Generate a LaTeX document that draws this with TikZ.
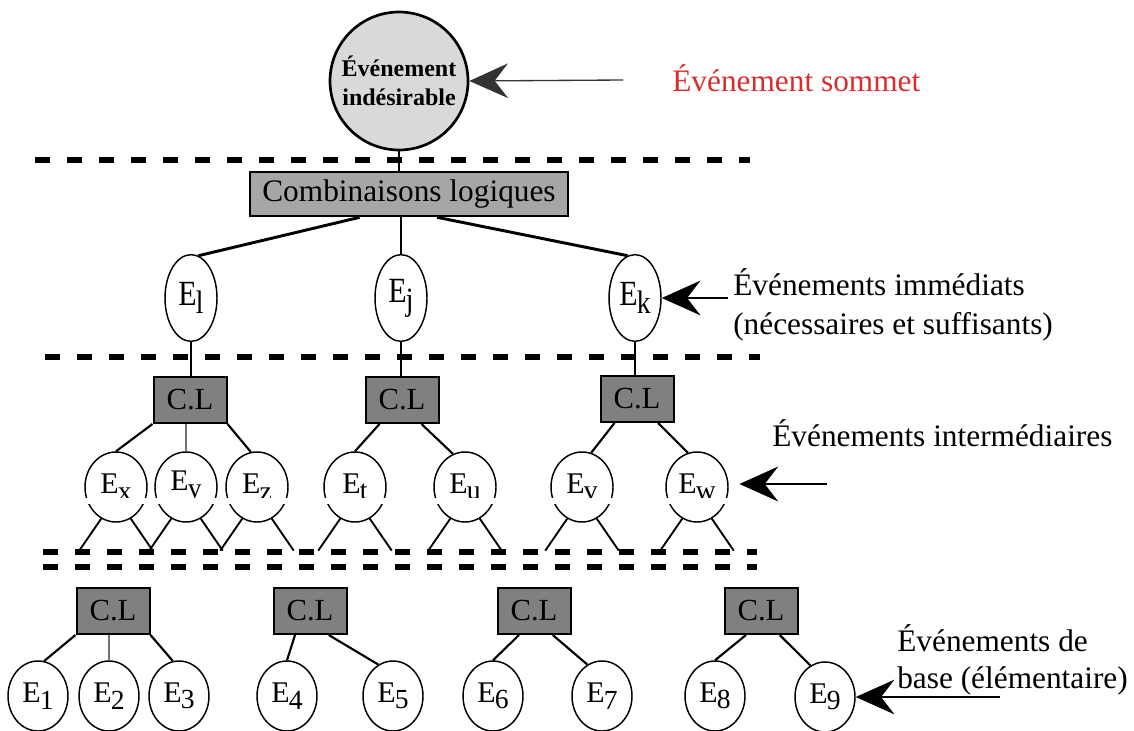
\documentclass[tikz,border=0pt]{standalone}
\usepackage{fontspec}
\usepackage{graphicx}
\setmainfont{Liberation Serif}
\usetikzlibrary{shapes.geometric,arrows.meta,calc}
\definecolor{topfill}{RGB}{217,217,217}
\definecolor{combfill}{RGB}{166,166,166}
\definecolor{clfill}{RGB}{128,128,128}
\definecolor{redlbl}{RGB}{218,45,45}
\newcommand{\Esub}[1]{E\kern-0.6pt\raisebox{-0.22em}{\scalebox{0.92}{#1}}}
\newcommand{\Ebig}[1]{\scalebox{1}[1.18]{\Esub{#1}}}
\tikzset{
  evt/.style={ellipse, draw, line width=1.1pt, fill=white, inner sep=0pt, font=\fontsize{22.5}{24}\selectfont},
  lvlone/.style={evt, minimum width=39pt, minimum height=65pt},
  lvltwo/.style={evt, minimum width=46.5pt, minimum height=52.5pt},
  basev/.style={evt, minimum width=45pt, minimum height=52.5pt},
  clbox/.style={draw, line width=1.5pt, fill=clfill, minimum width=54.75pt, minimum height=34.5pt, inner sep=0pt, font=\fontsize{23}{24}\selectfont},
  combbox/.style={draw, line width=2pt, fill=combfill, minimum width=238.5pt, minimum height=33pt, inner sep=0pt, font=\fontsize{23.5}{24}\selectfont},
  topev/.style={circle, draw, line width=2pt, fill=topfill, minimum size=103.5pt, inner sep=0pt, align=center, font=\bfseries\fontsize{18}{21.5}\selectfont},
  lbl/.style={font=\fontsize{23.5}{29}\selectfont, align=left, inner sep=0pt},
  sepline/.style={line width=4pt, dash pattern=on 11.25pt off 12.75pt},
  conn/.style={line width=1.6pt},
  thickconn/.style={line width=2.2pt},
  thinconn/.style={line width=1.3pt, black!55},
  stub/.style={line width=1.4pt},
  bigtip/.style={-{Stealth[length=29pt, width=26pt, inset=10pt]}}
}
\begin{document}
\begin{tikzpicture}[x=0.75pt,y=-0.75pt]
\useasboundingbox (0,0) rectangle (1134,731);

% separators
\draw[sepline] (35,160) -- (750,160);
\draw[sepline] (45,357) -- (760,357);
\draw[sepline] (43,552) -- (757,552);
\draw[sepline] (43,567) -- (757,567);

% top event
\node[topev] (top) at (399,81) {Événement\\indésirable};
\node[combbox] (comb) at (409,194) {Combinaisons logiques};
\draw[conn] (top.south) -- (top.south |- comb.north);

% immediate events
\node[lvlone] (el) at (191,298) {\Ebig{l}};
\node[lvlone] (ej) at (401,298) {\Ebig{j}};
\node[lvlone] (ek) at (635,298) {\Ebig{k}};
\draw[thickconn] ($(comb.south west)!0.346!(comb.south east)$) -- (el.80);
\draw[thickconn] (comb.south -| ej) -- (ej.north);
\draw[thickconn] ($(comb.south west)!0.588!(comb.south east)$) -- (ek.100);

% level-1 logic combinations
\node[clbox] (cla) at (190,400) {C.L};
\node[clbox] (clb) at (402,400) {C.L};
\node[clbox] (clc) at (637,399) {C.L};
\draw[conn] (el.south) -- (el.south |- cla.north);
\draw[conn] (ej.south) -- (ej.south |- clb.north);
\draw[conn] (ek.south) -- (ek.south |- clc.north);

% intermediate events
\node[lvltwo] (ex) at (116,487) {\Esub{x}};
\node[lvltwo] (ey) at (186,487) {\Esub{y}};
\node[lvltwo] (ez) at (257,487) {\Esub{z}};
\node[lvltwo] (et) at (355,487) {\Esub{t}};
\node[lvltwo] (eu) at (465,487) {\Esub{u}};
\node[lvltwo] (ev) at (582,487) {\Esub{v}};
\node[lvltwo] (ew) at (697,487) {\Esub{w}};

\draw[conn] (cla.south west) -- (ex.north);
\draw[thinconn] (cla.south -| ey) -- (ey.north);
\draw[conn] (cla.south east) -- (ez.100);
\draw[conn] ($(clb.south west)!0.2!(clb.south east)$) -- (et.north);
\draw[conn] ($(clb.south west)!0.76!(clb.south east)$) -- (eu.110);
\draw[conn] ($(clc.south west)!0.2!(clc.south east)$) -- (ev.75);
\draw[conn] ($(clc.south west)!0.78!(clc.south east)$) -- (ew.105);

\foreach \n in {ex,ey,ez,et,eu,ev,ew}{
  \draw[stub] (\n.-115) -- ++(-22,32);
  \draw[stub] (\n.-65) -- ++(22,32);
}

% white strip across the intermediate row
\fill[white] (80,498) rectangle (735,504);

% base level logic combinations
\node[clbox] (cld) at (113,611) {C.L};
\node[clbox] (cle) at (310,611) {C.L};
\node[clbox] (clf) at (534,611) {C.L};
\node[clbox] (clg) at (761,611) {C.L};

% basic events
\node[basev] (e1) at (38,696) {\Esub{1}};
\node[basev] (e2) at (109,696) {\Esub{2}};
\node[basev] (e3) at (179,696) {\Esub{3}};
\node[basev] (e4) at (287,696) {\Esub{4}};
\node[basev] (e5) at (393,696) {\Esub{5}};
\node[basev] (e6) at (493,696) {\Esub{6}};
\node[basev] (e7) at (602,696) {\Esub{7}};
\node[basev] (e8) at (715,696) {\Esub{8}};
\node[basev] (e9) at (825,697) {\Esub{9}};

\draw[conn] (cld.south west) -- (e1.80);
\draw[thinconn] (cld.south -| e2) -- (e2.north);
\draw[conn] (cld.south east) -- (e3.100);
\draw[conn] ($(cle.south west)!0.3!(cle.south east)$) -- (e4.north);
\draw[conn] ($(cle.south west)!0.75!(cle.south east)$) -- (e5.115);
\draw[conn] ($(clf.south west)!0.3!(clf.south east)$) -- (e6.north);
\draw[conn] ($(clf.south west)!0.75!(clf.south east)$) -- (e7.115);
\draw[conn] ($(clg.south west)!0.3!(clg.south east)$) -- (e8.north);
\draw[conn] ($(clg.south west)!0.75!(clg.south east)$) -- (e9.115);

% labels
\node[lbl, text=redlbl, anchor=west] (lsommet) at (672,78) {Événement sommet};
\node[lbl, anchor=west] (limm) at (733,305) {Événements immédiats\\(nécessaires et suffisants)};
\node[lbl, anchor=west] (linter) at (772,433) {Événements intermédiaires};
\node[lbl, anchor=west, font=\fontsize{23.5}{28}\selectfont] (lbase) at (897,660) {Événements de\\base (élémentaire)};

% arrows
\coordinate (atop) at (623,80);
\draw[bigtip, line width=1pt, black!80] (atop) -- (top.east);
\coordinate (ak) at (728,298);
\draw[bigtip, line width=1.6pt] (ak) -- (ek.east);
\coordinate (aw) at (827,484);
\draw[bigtip, line width=2.2pt, shorten >=8pt] (aw) -- (aw -| ew.east);
\coordinate (a9) at (1000,697);
\draw[bigtip, line width=1pt] (a9) -- (e9.east);
\end{tikzpicture}
\end{document}
